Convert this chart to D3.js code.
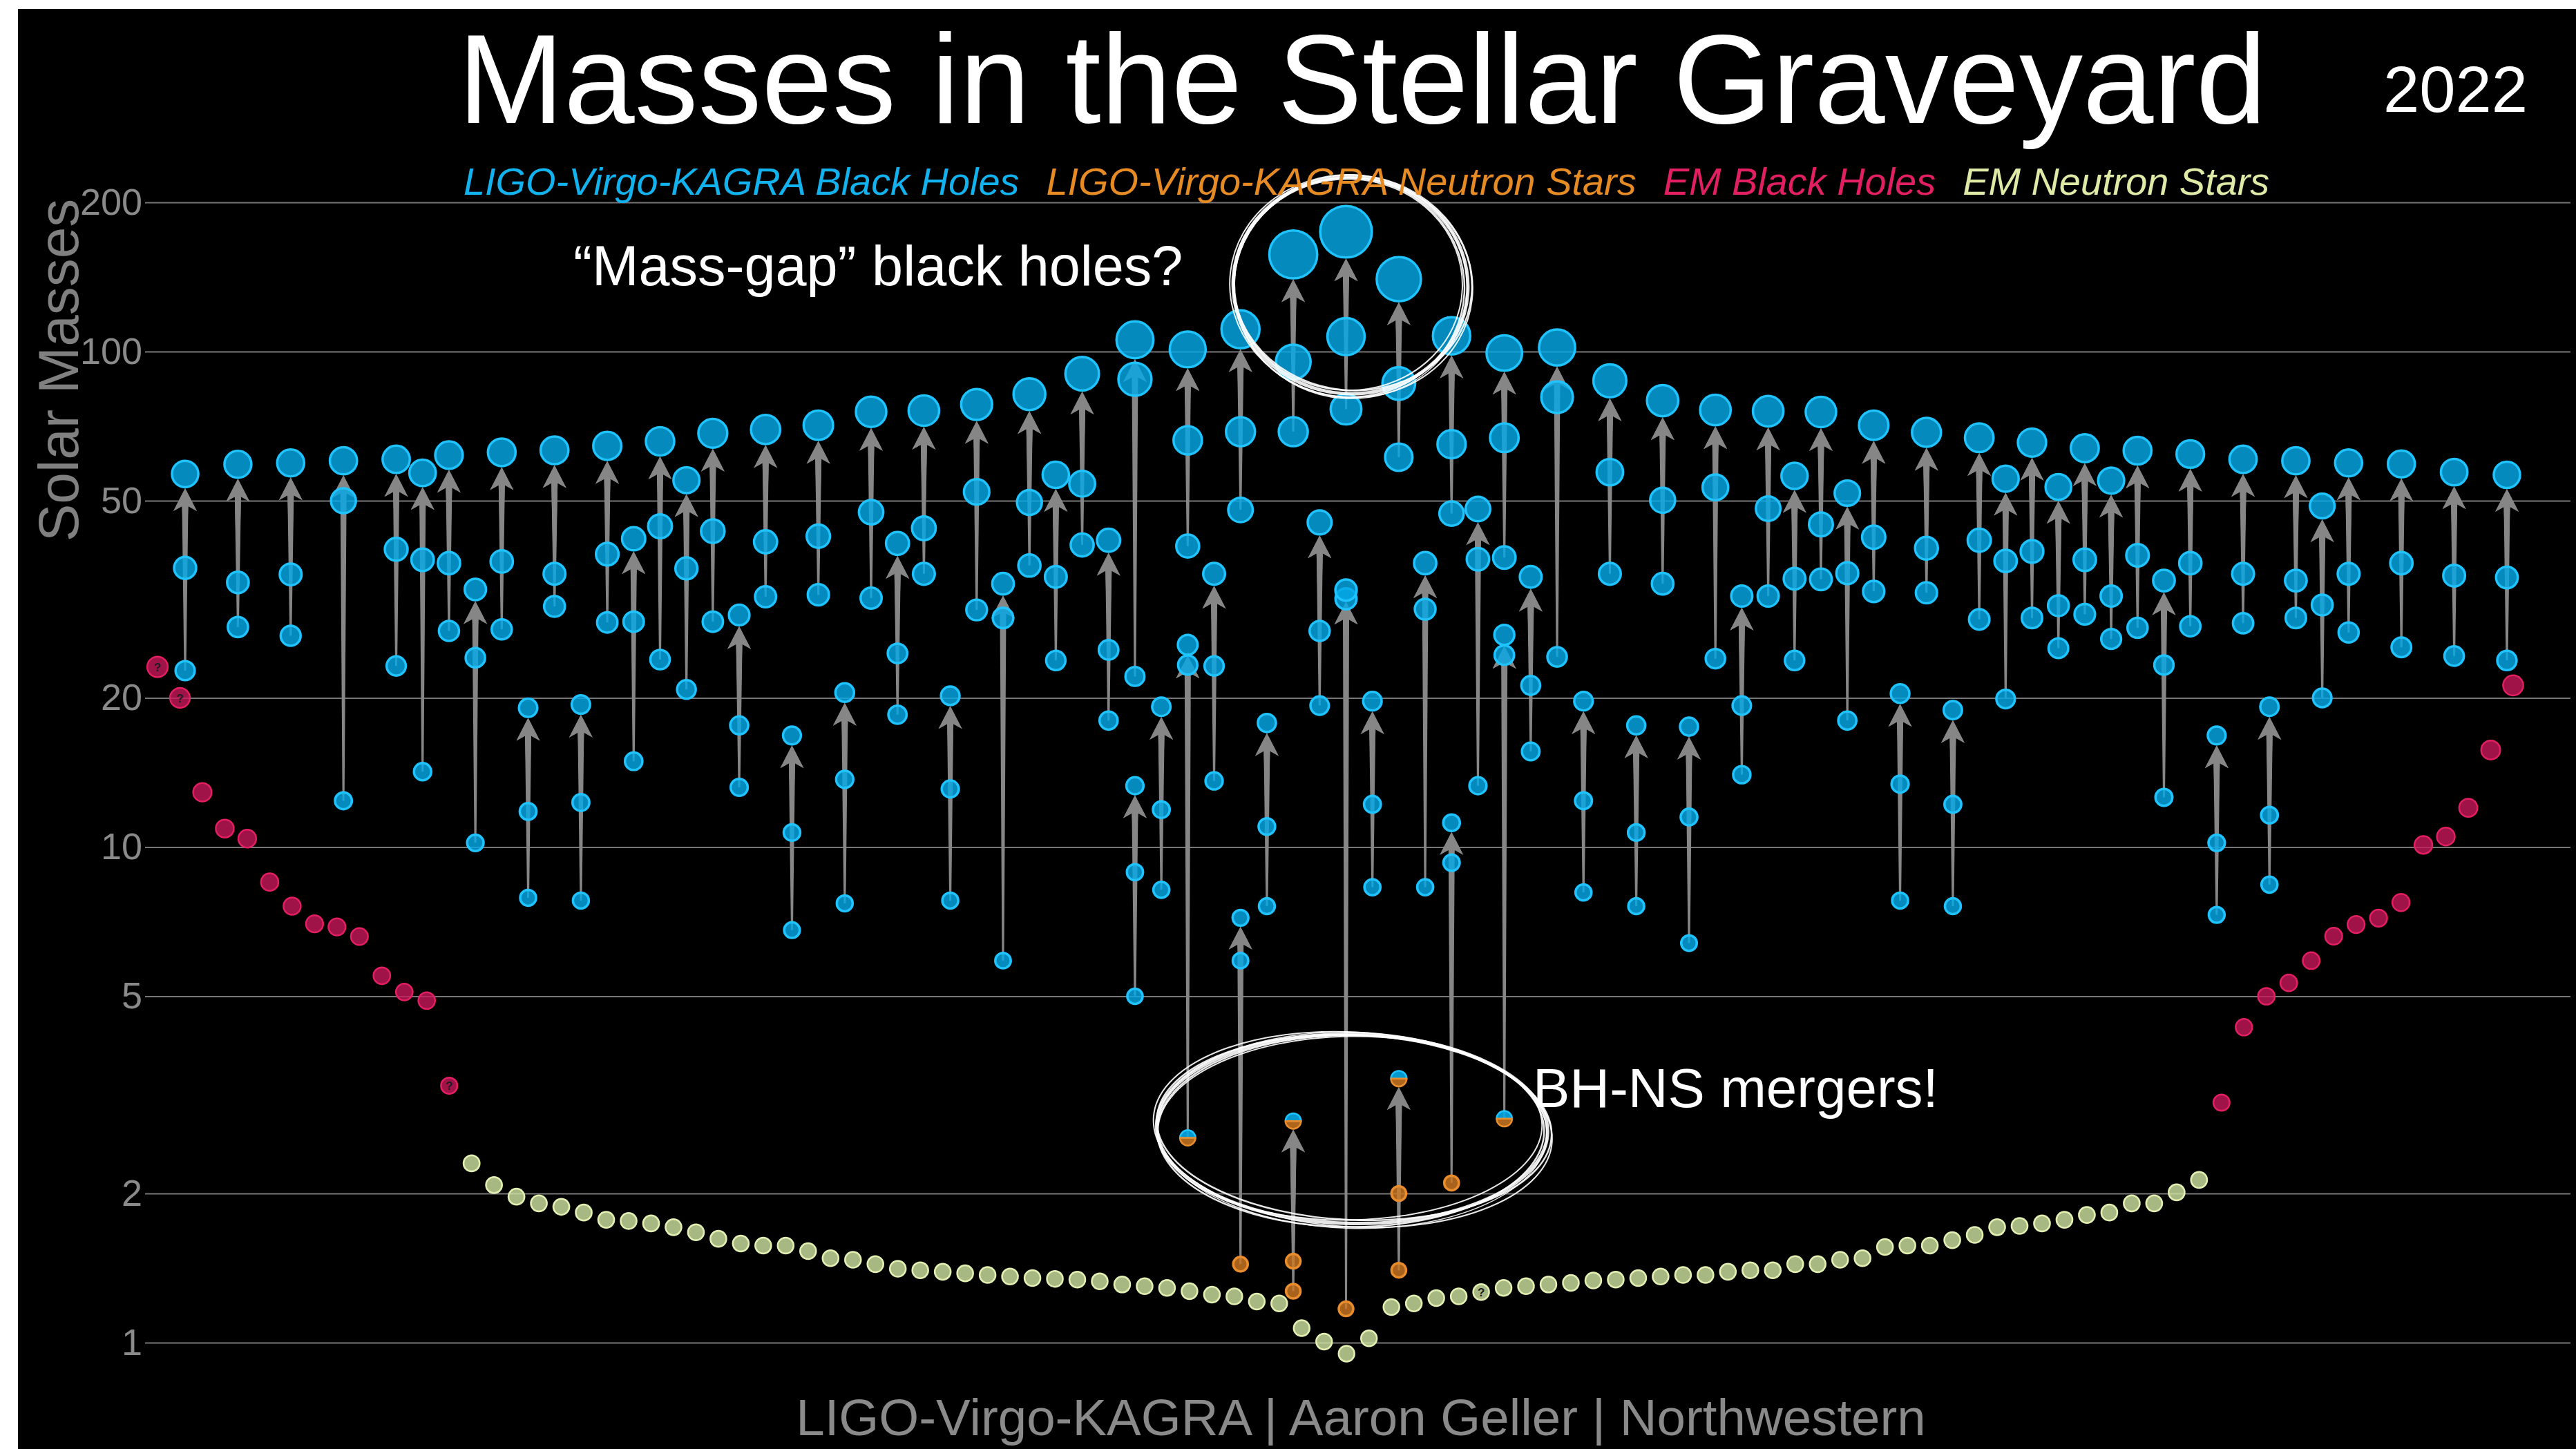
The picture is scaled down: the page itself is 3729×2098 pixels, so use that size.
<!DOCTYPE html>
<html>
<head>
<meta charset="utf-8">
<title>Masses in the Stellar Graveyard</title>
<script src="https://cdn.jsdelivr.net/npm/d3@7"></script>
<style>
  body { margin: 0; background: #fff; }
  svg { display: block; font-family: "Liberation Sans", Arial, Helvetica, sans-serif; }
</style>
</head>
<body>
<script>
const W = 3729, H = 2098;

// log axis ticks
const yTicks = [1, 2, 5, 10, 20, 50, 100, 200];

// LIGO-Virgo-KAGRA binary black hole mergers (slot = position on the merger grid)
const bbhSlot  = [0, 2, 4, 6, 8, 9, 10, 11, 12, 13, 14, 15, 16, 17, 18, 19, 20, 21, 22, 23, 24, 25, 26, 27, 28, 29, 30,
                  31, 32, 33, 34, 35, 36, 36, 37, 38, 39, 40, 41, 42, 43, 44, 45, 46, 47, 48, 49, 50, 51, 52, 53, 54, 55,
                  56, 57, 58, 59, 60, 61, 62, 63, 64, 65, 66, 67, 68, 69, 70, 71, 72, 73, 74, 75, 76, 77, 78, 79, 80, 81,
                  82, 84, 86, 88];
const bbhM1    = [36.6, 34.2, 35.5, 50.0, 39.9, 38.0, 37.4, 24.1, 37.7, 11.8, 35.6, 12.3, 39.0, 28.5, 44.4, 36.5, 43.4, 17.6,
                  41.3, 10.7, 42.4, 13.7, 47.4, 24.6, 44.0, 13.1, 52.1, 29.0, 49.6, 35.1, 54.1, 25.0, 87.9, 8.9, 11.9, 66.2,
                  23.2, 68.9, 11.0, 95.3, 27.3, 107.2, 12.2, 86.2, 30.2, 65.0, 38.1, 67.0, 21.2, 80.9, 12.4, 57.1, 10.7, 50.1,
                  11.5, 53.2, 19.3, 48.2, 34.8, 44.8, 35.7, 42.2, 13.4, 40.1, 12.2, 41.6, 37.8, 39.5, 30.7, 38.0, 32.1, 38.8,
                  23.3, 37.4, 10.2, 35.6, 11.6, 34.5, 30.8, 35.6, 37.4, 35.3, 35.0];
const bbhM2    = [22.7, 27.8, 26.7, 12.4, 23.2, 14.2, 27.3, 10.2, 27.5, 7.9, 30.6, 7.8, 28.4, 14.9, 23.9, 20.8, 28.5, 13.2,
                  32.0, 6.8, 32.3, 7.7, 31.8, 18.5, 35.6, 7.8, 30.1, 5.9, 37.0, 23.8, 40.7, 18.0, 22.1, 5.0, 8.2, 40.5,
                  13.6, 47.9, 7.6, 68.9, 19.3, 76.5, 8.3, 61.2, 8.3, 47.1, 13.3, 38.4, 15.6, 24.2, 8.1, 35.6, 7.6, 34.0,
                  6.4, 24.0, 14.0, 32.1, 23.8, 34.7, 18.0, 32.8, 7.8, 32.6, 7.6, 28.8, 19.9, 29.0, 25.2, 29.5, 26.3, 27.7,
                  12.6, 27.9, 7.3, 28.3, 8.4, 29.0, 20.0, 27.1, 25.3, 24.3, 23.8];
const bbhFinal = [56.6, 59.2, 59.6, 60.2, 60.6, 56.9, 61.8, 33.1, 62.6, 19.1, 63.2, 19.4, 64.5, 41.9, 65.9, 55.0, 68.4, 29.4,
                  69.6, 16.8, 71.0, 20.5, 75.6, 41.0, 76.0, 20.2, 78.2, 34.0, 82.0, 56.4, 90.2, 41.6, 105.6, 13.3, 19.2, 101.0,
                  35.6, 110.9, 17.8, 157.0, 45.2, 174.5, 19.7, 140.0, 37.4, 107.6, 48.1, 99.3, 35.1, 101.9, 19.7, 87.3, 17.6, 79.6,
                  17.5, 76.2, 32.1, 75.8, 56.1, 75.5, 51.8, 71.0, 20.4, 68.7, 18.9, 67.0, 55.4, 65.5, 53.3, 63.8, 54.9, 63.1,
                  34.5, 62.1, 16.8, 60.6, 19.2, 60.2, 48.8, 59.6, 59.3, 57.1, 56.4];

// mergers with a neutron star or a mass-gap object
const nsSlot      = [38, 40, 42, 44, 46, 48, 50];
const nsM1        = [23.3, 5.9, 1.46, 31.7, 2.0, 9.3, 24.4];
const nsM1Kind    = ["bh", "bh", "ns", "bh", "ns", "bh", "bh"];
const nsM2        = [2.59, 1.44, 1.27, 1.17, 1.40, 2.10, 2.83];
const nsM2Kind    = ["gap", "ns", "ns", "ns", "ns", "ns", "gap"];
const nsFinal     = [25.6, 7.2, 2.80, 33.0, 3.41, 11.2, 26.8];
const nsFinalKind = ["bh", "bh", "gap", "bh", "gap", "bh", "bh"];

// electromagnetically observed objects (slots 0-13, 14-91, 92-105)
const emBHLeft  = [23.1, 20.0, 12.9, 10.9, 10.4, 8.5, 7.6, 7.0, 6.9, 6.6, 5.5, 5.1, 4.9, 3.3];
const emNS      = [2.30, 2.08, 1.97, 1.91, 1.88, 1.83, 1.77, 1.76, 1.74, 1.71, 1.67, 1.62, 1.585, 1.57, 1.57, 1.53,
                   1.48, 1.47, 1.44, 1.41, 1.40, 1.39, 1.38, 1.37, 1.36, 1.35, 1.345, 1.34, 1.33, 1.31, 1.30, 1.29,
                   1.27, 1.25, 1.24, 1.21, 1.20, 1.07, 1.005, 0.95, 1.02, 1.18, 1.20, 1.23, 1.24, 1.265, 1.29, 1.30,
                   1.31, 1.32, 1.335, 1.34, 1.35, 1.36, 1.37, 1.37, 1.39, 1.40, 1.40, 1.44, 1.44, 1.47, 1.48, 1.56,
                   1.57, 1.57, 1.61, 1.65, 1.71, 1.72, 1.74, 1.77, 1.81, 1.83, 1.91, 1.91, 2.01, 2.13];
const emBHRight = [3.05, 4.33, 5.0, 5.32, 5.90, 6.61, 6.98, 7.19, 7.73, 10.1, 10.5, 12.0, 15.7, 21.2];
const emUncertain = [0, 1, 13, 59];

const legendLabels = ["LIGO-Virgo-KAGRA Black Holes", "LIGO-Virgo-KAGRA Neutron Stars", "EM Black Holes", "EM Neutron Stars"];
const legendColors = ["#12b2ee", "#e68a24", "#e21f62", "#dfeaa6"];

const colors = {
  bh:   { fill: "#05a8e6", stroke: "#1fc3ff" },
  ns:   { fill: "#cd7821", stroke: "#e88c2c" },
  embh: { fill: "#c8185a", stroke: "#e41e62" },
  emns: { fill: "#d2e6a2", stroke: "#e2eeb2" }
};

// ---------- scales ----------
const plotLeft = 210, plotRight = 3721;
const y = d3.scaleLog().domain([1, 200]).range([1944, 293]);
const xMerger = d3.scaleLinear().domain([0, 88]).range([268, 3629]);
const xEM = d3.scaleLinear().domain([0, 105]).range([228, 3638]);
const rad = d3.scaleLinear().domain([0, 200]).range([11.8, 42.8]);

const svg = d3.select("body").append("svg").attr("width", W).attr("height", H);
svg.append("rect").attr("width", W).attr("height", H).attr("fill", "#fff");
svg.append("rect").attr("x", 26).attr("y", 13).attr("width", W - 26).attr("height", H - 13).attr("fill", "#000");

// ---------- axis / grid ----------
const axis = svg.append("g").attr("transform", `translate(${plotLeft},0)`)
  .call(d3.axisLeft(y).tickValues(yTicks).tickFormat(d3.format("d"))
    .tickSize(-(plotRight - plotLeft)).tickPadding(4));
axis.select(".domain").remove();
axis.selectAll(".tick line").attr("stroke", "#777").attr("stroke-width", 2);
axis.selectAll(".tick text").attr("fill", "#8a8a8a").attr("font-size", 54)
  .attr("font-family", "Liberation Sans, Arial, sans-serif");

svg.append("text")
  .attr("transform", "translate(113,536) rotate(-90)")
  .attr("text-anchor", "middle").attr("fill", "#808080").attr("font-size", 82)
  .text("Solar Masses");

// ---------- EM objects ----------
const emPoints = [
  ...emBHLeft.map((m, i) => ({ slot: i, m, kind: "embh" })),
  ...emNS.map((m, i) => ({ slot: i + 14, m, kind: "emns" })),
  ...emBHRight.map((m, i) => ({ slot: i + 92, m, kind: "embh" }))
];

const emG = svg.append("g");
emG.selectAll("circle").data(emPoints).join("circle")
  .attr("cx", d => xEM(d.slot)).attr("cy", d => y(d.m)).attr("r", d => rad(d.m) - 0.5)
  .attr("fill", d => colors[d.kind].fill).attr("fill-opacity", 0.8)
  .attr("stroke", d => colors[d.kind].stroke).attr("stroke-width", 2.5);
emG.selectAll("text").data(emPoints.filter(d => emUncertain.includes(d.slot))).join("text")
  .attr("x", d => xEM(d.slot)).attr("y", d => y(d.m) + 6)
  .attr("text-anchor", "middle").attr("font-size", 17).attr("font-weight", "bold")
  .attr("fill", "#1c1c1c").text("?");

// ---------- gravitational-wave mergers ----------
const mergers = bbhSlot.map((s, i) => ({
  slot: s,
  comps: [{ m: bbhM1[i], kind: "bh" }, { m: bbhM2[i], kind: "bh" }],
  final: { m: bbhFinal[i], kind: "bh" }
})).concat(nsSlot.map((s, i) => ({
  slot: s,
  comps: [{ m: nsM1[i], kind: nsM1Kind[i] }, { m: nsM2[i], kind: nsM2Kind[i] }],
  final: { m: nsFinal[i], kind: nsFinalKind[i] }
})));

function arrowPath(x, yFrom, yTip) {
  const headH = 33, headW = 17, neck = 26;
  const yBase = Math.max(yFrom, yTip + neck);
  return `M${x},${yTip} L${x + headW},${yTip + headH} L${x + 4.5},${yTip + neck} L${x + 1.5},${yBase}` +
         ` L${x - 1.5},${yBase} L${x - 4.5},${yTip + neck} L${x - headW},${yTip + headH} Z`;
}

const arrows = [];
mergers.forEach(d => d.comps.forEach(c => arrows.push({
  x: xMerger(d.slot), yFrom: y(c.m), yTip: y(d.final.m) + rad(d.final.m)
})));

svg.append("g").selectAll("path").data(arrows).join("path")
  .attr("d", d => arrowPath(d.x, d.yFrom, d.yTip))
  .attr("fill", "#868686");

const bodies = [];
mergers.forEach(d => {
  d.comps.forEach(c => bodies.push({ x: xMerger(d.slot), m: c.m, kind: c.kind }));
  bodies.push({ x: xMerger(d.slot), m: d.final.m, kind: d.final.kind });
});

const bodyG = svg.append("g");
const halfTop = d3.arc().innerRadius(0).startAngle(-Math.PI / 2).endAngle(Math.PI / 2);
const halfBottom = d3.arc().innerRadius(0).startAngle(Math.PI / 2).endAngle(Math.PI * 1.5);

bodyG.selectAll("circle").data(bodies.filter(d => d.kind !== "gap")).join("circle")
  .attr("cx", d => d.x).attr("cy", d => y(d.m)).attr("r", d => rad(d.m) - 1.5)
  .attr("fill", d => colors[d.kind].fill).attr("fill-opacity", 0.82)
  .attr("stroke", d => colors[d.kind].stroke).attr("stroke-width", 3.5);

const gaps = bodyG.selectAll("g.gap").data(bodies.filter(d => d.kind === "gap")).join("g")
  .attr("class", "gap").attr("transform", d => `translate(${d.x},${y(d.m)})`);
gaps.append("path").attr("d", d => halfTop({ outerRadius: rad(d.m) - 1 }))
  .attr("fill", colors.bh.fill).attr("fill-opacity", 0.9)
  .attr("stroke", colors.bh.stroke).attr("stroke-width", 2.5);
gaps.append("path").attr("d", d => halfBottom({ outerRadius: rad(d.m) - 1 }))
  .attr("fill", colors.ns.fill).attr("fill-opacity", 0.85)
  .attr("stroke", colors.ns.stroke).attr("stroke-width", 2.5);

// ---------- annotations ----------
const rings = [
  { slot: 44.17, m: 136, rx: 170, ry: 157, rot: 4 },
  { slot: 44.23, m: 2.70, rx: 283, ry: 137, rot: 1 }
];
const jitter = [[0, 0, 0, 0, 0, 5], [3, -2, 3, -3, 1.5, 2.5], [-2, 3, -3, 2, -1, 2.5], [1, 1, 6, 4, 2.5, 2], [-3, -1, -5, -4, -2, 2], [0, 2, -1, 5, 0.5, 1.5]];
const ringG = svg.append("g").attr("fill", "none").attr("stroke", "#fff");
rings.forEach(rg => {
  const cx = xMerger(rg.slot), cy = y(rg.m);
  jitter.forEach(([dx, dy, drx, dry, drot, w]) => {
    ringG.append("ellipse")
      .attr("transform", `translate(${cx + dx},${cy + dy}) rotate(${rg.rot + drot})`)
      .attr("rx", rg.rx + drx).attr("ry", rg.ry + dry)
      .attr("stroke-width", w).attr("stroke-opacity", 0.9);
  });
});

svg.append("text").attr("x", 830).attr("y", 413).attr("fill", "#fff").attr("font-size", 81)
  .text("\u201CMass-gap\u201D black holes?");
svg.append("text").attr("x", 2219).attr("y", 1603).attr("fill", "#fff").attr("font-size", 80)
  .text("BH-NS mergers!");

// ---------- title, legend, credit ----------
svg.append("text").attr("x", 1972).attr("y", 178).attr("text-anchor", "middle")
  .attr("fill", "#fff").attr("font-size", 184).text("Masses in the Stellar Graveyard");
svg.append("text").attr("x", 3450).attr("y", 162).attr("fill", "#fff").attr("font-size", 94).text("2022");

const legend = svg.append("g").attr("font-style", "italic").attr("font-size", 55.9);
let lx = 671;
legendLabels.forEach((label, i) => {
  const t = legend.append("text").attr("x", lx).attr("y", 282).attr("fill", legendColors[i]).text(label);
  lx += t.node().getComputedTextLength() + 39;
});

svg.append("text").attr("x", 1970).attr("y", 2078).attr("text-anchor", "middle")
  .attr("fill", "#8a8a8a").attr("font-size", 74.5)
  .text("LIGO-Virgo-KAGRA | Aaron Geller | Northwestern");
</script>
</body>
</html>
